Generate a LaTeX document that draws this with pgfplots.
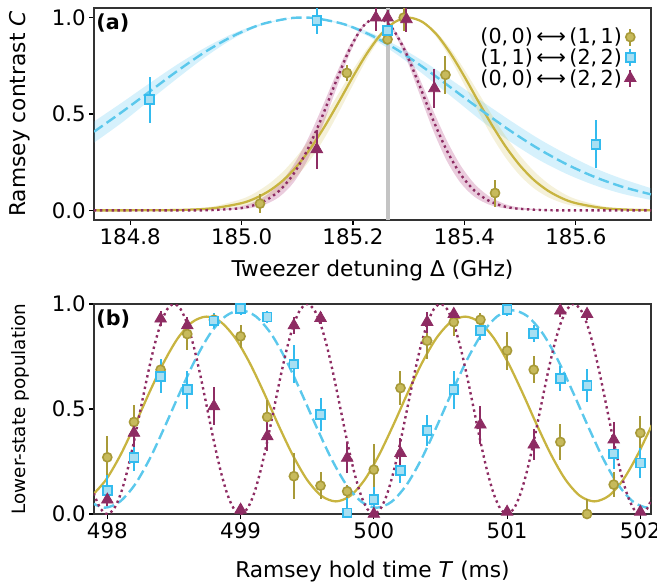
\documentclass[border=0pt]{standalone}
\usepackage{fontspec}
\setmainfont{DejaVu Sans}
\usepackage{pgfplots}
\usepackage{pgfplotstable}
\pgfplotsset{compat=1.18}
\usepgfplotslibrary{fillbetween}

\definecolor{oliveL}{HTML}{C8B440}
\definecolor{oliveE}{HTML}{A89A38}
\definecolor{oliveF}{HTML}{C7BA5C}
\definecolor{oliveB}{HTML}{CCBB44}
\definecolor{cyanL}{HTML}{5BC8EC}
\definecolor{cyanE}{HTML}{33BBEE}
\definecolor{cyanF}{HTML}{A8DFF2}
\definecolor{wine}{HTML}{8E2C63}
\definecolor{pinkB}{HTML}{AA3377}
\definecolor{grayL}{HTML}{C4C4C4}

% ---------- panel (a) fit curves: x, fit, lower band, upper band
\pgfplotstableread[row sep=\\]{
x y lo hi\\
184.735 .408 .351 .461\\
184.785 .510 .455 .559\\
184.835 .617 .571 .660\\
184.885 .724 .686 .758\\
184.935 .823 .796 .845\\
184.985 .905 .891 .918\\
185.035 .965 .959 .969\\
185.085 .996 .995 .997\\
185.110 1 1 1\\
185.135 .996 .995 .997\\
185.185 .965 .959 .969\\
185.235 .905 .891 .918\\
185.285 .823 .796 .845\\
185.335 .724 .686 .758\\
185.385 .617 .571 .660\\
185.435 .510 .455 .559\\
185.485 .408 .351 .461\\
185.535 .316 .260 .369\\
185.585 .237 .187 .289\\
185.635 .172 .129 .218\\
185.685 .121 .085 .162\\
185.735 .083 .054 .115\\
}\cyanfit

\pgfplotstableread[row sep=\\]{
x y lo hi\\
184.735 0 0 0\\
184.800 0 0 .0004\\
184.850 .0006 .0002 .0017\\
184.900 .0029 .0010 .0065\\
184.950 .0114 .0052 .0211\\
185.000 .0374 .0211 .0587\\
185.025 .0632 .0391 .0924\\
185.050 .102 .0686 .140\\
185.075 .157 .114 .203\\
185.100 .232 .180 .284\\
185.125 .327 .269 .381\\
185.150 .440 .381 .492\\
185.175 .565 .512 .611\\
185.200 .694 .651 .730\\
185.225 .814 .786 .838\\
185.250 .913 .898 .924\\
185.275 .977 .974 .980\\
185.300 1 1 1\\
185.325 .977 .974 .980\\
185.350 .913 .898 .924\\
185.375 .814 .786 .838\\
185.400 .694 .651 .730\\
185.425 .565 .512 .611\\
185.450 .440 .381 .492\\
185.475 .327 .269 .381\\
185.500 .232 .180 .284\\
185.525 .157 .114 .203\\
185.550 .102 .0686 .140\\
185.575 .0632 .0391 .0924\\
185.600 .0374 .0211 .0587\\
185.650 .0114 .0052 .0211\\
185.700 .0029 .0010 .0065\\
185.735 .0010 .0003 .0032\\
}\olivefit

\pgfplotstableread[row sep=\\]{
x y lo hi\\
184.735 0 0 0\\
184.893 .0001 0 .0004\\
184.943 .0012 .0004 .0030\\
184.993 .0096 .0045 .0177\\
185.018 .0232 .0125 .0381\\
185.043 .0511 .0313 .0756\\
185.068 .1025 .0706 .138\\
185.093 .188 .143 .234\\
185.118 .313 .259 .365\\
185.143 .475 .421 .524\\
185.168 .658 .615 .695\\
185.193 .830 .805 .851\\
185.218 .9546 .947 .960\\
185.243 1 1 1\\
185.268 .9546 .947 .960\\
185.293 .830 .805 .851\\
185.318 .658 .615 .695\\
185.343 .475 .421 .524\\
185.368 .313 .259 .365\\
185.393 .188 .143 .234\\
185.418 .1025 .0706 .138\\
185.443 .0511 .0313 .0756\\
185.468 .0232 .0125 .0381\\
185.493 .0096 .0045 .0177\\
185.543 .0012 .0004 .0030\\
185.593 .0001 0 .0004\\
185.735 0 0 0\\
}\winefit

% ---------- panel (a) data
\pgfplotstableread[row sep=\\]{
x y e\\
185.033 0.035 0.05\\
185.189 0.713 0.04\\
185.262 0.887 0.02\\
185.291 1.000 0.07\\
185.366 0.703 0.10\\
185.455 0.090 0.07\\
}\aol
\pgfplotstableread[row sep=\\]{
x y e\\
184.835 0.574 0.12\\
185.135 0.984 0.07\\
185.262 0.934 0.03\\
185.636 0.343 0.125\\
}\acy
\pgfplotstableread[row sep=\\]{
x y e\\
185.135 0.317 0.10\\
185.241 1.000 0.07\\
185.262 1.000 0.04\\
185.296 0.991 0.065\\
185.346 0.633 0.10\\
}\awi

% ---------- panel (b) data
\pgfplotstableread[row sep=\\]{
x y e\\
498.0 0.270 0.10\\
498.2 0.438 0.08\\
498.4 0.687 0.05\\
498.6 0.857 0.075\\
498.8 0.925 0.03\\
499.0 0.846 0.055\\
499.2 0.462 0.08\\
499.4 0.180 0.11\\
499.6 0.135 0.065\\
499.8 0.108 0.03\\
500.0 0.211 0.12\\
500.2 0.600 0.08\\
500.4 0.825 0.085\\
500.6 0.914 0.065\\
500.8 0.925 0.03\\
501.0 0.778 0.09\\
501.2 0.687 0.065\\
501.4 0.343 0.085\\
501.6 0.000 0.07\\
501.8 0.140 0.06\\
502.0 0.386 0.08\\
}\bol
\pgfplotstableread[row sep=\\]{
x y e\\
498.0 0.113 0.075\\
498.2 0.270 0.065\\
498.4 0.656 0.08\\
498.6 0.592 0.09\\
498.8 0.920 0.035\\
499.0 0.978 0.03\\
499.2 0.938 0.03\\
499.4 0.714 0.09\\
499.6 0.473 0.08\\
499.8 0.005 0.07\\
500.0 0.068 0.06\\
500.2 0.206 0.06\\
500.4 0.398 0.075\\
500.6 0.592 0.09\\
500.8 0.875 0.045\\
501.0 0.973 0.03\\
501.2 0.859 0.04\\
501.4 0.644 0.06\\
501.6 0.611 0.08\\
501.8 0.286 0.07\\
502.0 0.243 0.07\\
}\bcy
\pgfplotstableread[row sep=\\]{
x y e\\
498.0 0.068 0.03\\
498.2 0.386 0.065\\
498.4 0.930 0.035\\
498.6 0.898 0.04\\
498.8 0.513 0.09\\
499.0 0.020 0.03\\
499.2 0.370 0.07\\
499.4 0.898 0.04\\
499.6 0.933 0.03\\
499.8 0.267 0.07\\
500.0 0.000 0.03\\
500.2 0.290 0.07\\
500.4 0.914 0.05\\
500.6 0.952 0.03\\
500.8 0.425 0.09\\
501.0 0.010 0.03\\
501.2 0.330 0.075\\
501.4 0.968 0.03\\
501.6 0.952 0.03\\
501.8 0.354 0.085\\
502.0 0.010 0.03\\
}\bwi

\pgfplotsset{
  base/.style={
    scale only axis, width=417.75bp,
    tick pos=left, tick align=outside,
    major tick length=3.5bp,
    every tick/.style={black, line width=0.8bp},
    axis line style={draw=black!80, line width=0.9bp},
    ticklabel style={font=\fontsize{16bp}{18bp}\selectfont},
    xticklabel style={inner sep=2.5bp},
    yticklabel style={inner sep=2.5bp},
    ytick={0,0.5,1}, yticklabels={0.0,0.5,1.0},
  },
  olS/.style={only marks, mark=*, mark size=3.4bp,
    mark options={draw=oliveE, fill=oliveF, line width=1.2bp, solid},
    error bars/y dir=both, error bars/y explicit, error bars/error mark=none,
    error bars/error bar style={draw=oliveE, line width=1.5bp, solid}},
  cyS/.style={only marks, mark=square*, mark size=3.3bp,
    mark options={draw=cyanE, fill=cyanF, line width=1.3bp, solid},
    error bars/y dir=both, error bars/y explicit, error bars/error mark=none,
    error bars/error bar style={draw=cyanE, line width=1.5bp, solid}},
  wiS/.style={only marks, mark=triangle*, mark size=5bp,
    mark options={draw=wine, fill=wine, line width=0.6bp, solid},
    error bars/y dir=both, error bars/y explicit, error bars/error mark=none,
    error bars/error bar style={draw=wine, line width=1.5bp, solid}},
  olC/.style={color=oliveL, line width=1.7bp, smooth},
  cyC/.style={color=cyanL, line width=1.8bp, dash pattern=on 8bp off 3.5bp, smooth},
  wiC/.style={color=wine, line width=1.8bp, dash pattern=on 1.8bp off 2.6bp, smooth},
}

\begin{document}
\begin{tikzpicture}
% ================= panel (a)
\begin{axis}[base, at={(0,0)}, anchor=north west, height=159bp,
  xmin=184.735, xmax=185.735, ymin=-0.05, ymax=1.05,
  xtick={184.8,185.0,185.2,185.4,185.6},
  xticklabels={184.8,185.0,185.2,185.4,185.6},
  xlabel={Tweezer detuning Δ (GHz)},
  ylabel={Ramsey contrast \textit{C}},
  every axis x label/.style={at={([yshift=-42bp]axis description cs:0.5,0)}, anchor=base, font=\fontsize{16.3bp}{19bp}\selectfont},
  every axis y label/.style={at={([xshift=-51.5bp]axis description cs:0,0.5)}, rotate=90, anchor=base, font=\fontsize{16.3bp}{19bp}\selectfont},
  legend plot pos=right, legend cell align=right,
  legend style={at={(1,1)}, anchor=north east, xshift=-8bp, yshift=-11bp,
    draw=none, fill=none, font=\fontsize{15.5bp}{17bp}\selectfont, row sep=-1.8bp},
]
\addplot[draw=none, name path=cu, forget plot, smooth] table[x=x,y=hi]{\cyanfit};
\addplot[draw=none, name path=cl, forget plot, smooth] table[x=x,y=lo]{\cyanfit};
\addplot[fill=cyanE, fill opacity=0.2, draw=none, forget plot] fill between[of=cu and cl];
\addplot[draw=none, name path=ou, forget plot, smooth] table[x=x,y=hi]{\olivefit};
\addplot[draw=none, name path=ol, forget plot, smooth] table[x=x,y=lo]{\olivefit};
\addplot[fill=oliveB, fill opacity=0.2, draw=none, forget plot] fill between[of=ou and ol];
\addplot[draw=none, name path=wu, forget plot, smooth] table[x=x,y=hi]{\winefit};
\addplot[draw=none, name path=wl, forget plot, smooth] table[x=x,y=lo]{\winefit};
\addplot[fill=pinkB, fill opacity=0.25, draw=none, forget plot] fill between[of=wu and wl];

\addplot[forget plot, color=grayL, line width=3bp] coordinates {(185.262,-0.05) (185.262,1.05)};

\addplot[olC, forget plot] table[x=x,y=y]{\olivefit};
\addplot[cyC, forget plot] table[x=x,y=y]{\cyanfit};
\addplot[wiC, forget plot] table[x=x,y=y]{\winefit};

\addplot[olS, legend image code/.code={
   \draw[draw=oliveE, line width=1.5bp] (0.2cm,-6.4bp) -- (0.2cm,6.4bp);
   \draw[draw=none, mark=*, mark size=3.4bp, mark options={draw=oliveE, fill=oliveF, line width=1.2bp}] plot coordinates {(0.2cm,0cm)};}]
   table[x=x,y=y,y error=e]{\aol};
\addlegendentry{(0,\,0)\,⟷\,(1,\,1)}
\addplot[cyS, legend image code/.code={
   \draw[draw=cyanE, line width=1.5bp] (0.2cm,-6.4bp) -- (0.2cm,6.4bp);
   \draw[draw=none, mark=square*, mark size=3.3bp, mark options={draw=cyanE, fill=cyanF, line width=1.3bp}] plot coordinates {(0.2cm,0cm)};}]
   table[x=x,y=y,y error=e]{\acy};
\addlegendentry{(1,\,1)\,⟷\,(2,\,2)}
\addplot[wiS, legend image code/.code={
   \draw[draw=wine, line width=1.5bp] (0.2cm,-6.4bp) -- (0.2cm,6.4bp);
   \draw[draw=none, mark=triangle*, mark size=5bp, mark options={draw=wine, fill=wine, line width=0.6bp}] plot coordinates {(0.2cm,0cm)};}]
   table[x=x,y=y,y error=e]{\awi};
\addlegendentry{(0,\,0)\,⟷\,(2,\,2)}

\node[anchor=north west, inner sep=0pt, font=\bfseries\fontsize{15.5bp}{17bp}\selectfont] at (rel axis cs:0.004,0.975) {(a)};
\end{axis}

% ================= panel (b)
\begin{axis}[base, at={(0,-222bp)}, anchor=north west, height=157.5bp,
  xmin=497.9, xmax=502.08, ymin=0, ymax=1,
  xtick={498,499,500,501,502},
  xticklabels={498,499,500,501,502},
  xlabel={Ramsey hold time \textit{T} (ms)},
  ylabel={Lower-state population},
  every axis x label/.style={at={([yshift=-47.5bp]axis description cs:0.5,0)}, anchor=base, font=\fontsize{16.3bp}{19bp}\selectfont},
  every axis y label/.style={at={([xshift=-51.5bp]axis description cs:0,0.5)}, rotate=90, anchor=base, font=\fontsize{13.8bp}{16bp}\selectfont},
]
\addplot[olC] coordinates {
(497.883,0.0864) (497.990,0.163) (498.098,0.28) (498.206,0.4234) (498.314,0.5766)
(498.422,0.72) (498.529,0.837) (498.637,0.9136) (498.745,0.94) (498.853,0.9136)
(498.961,0.837) (499.068,0.72) (499.176,0.5766) (499.284,0.4234) (499.392,0.28)
(499.499,0.163) (499.607,0.0864) (499.715,0.06) (499.823,0.0864) (499.931,0.163)
(500.038,0.28) (500.146,0.4234) (500.254,0.5766) (500.362,0.72) (500.469,0.837)
(500.577,0.9136) (500.685,0.94) (500.793,0.9136) (500.901,0.837) (501.008,0.72)
(501.116,0.5766) (501.224,0.4234) (501.332,0.28) (501.439,0.163) (501.547,0.0864)
(501.655,0.06) (501.763,0.0864) (501.871,0.163) (501.978,0.28) (502.086,0.4234)};
\addplot[cyC] coordinates {
(497.867,0.0583) (497.980,0.03) (498.093,0.0583) (498.207,0.140) (498.320,0.265)
(498.433,0.4184) (498.547,0.5816) (498.660,0.735) (498.773,0.860) (498.887,0.9417)
(499.000,0.97) (499.113,0.9417) (499.227,0.860) (499.340,0.735) (499.453,0.5816)
(499.567,0.4184) (499.680,0.265) (499.793,0.140) (499.907,0.0583) (500.020,0.03)
(500.133,0.0583) (500.247,0.140) (500.360,0.265) (500.473,0.4184) (500.587,0.5816)
(500.700,0.735) (500.813,0.860) (500.927,0.9417) (501.040,0.97) (501.153,0.9417)
(501.267,0.860) (501.380,0.735) (501.493,0.5816) (501.607,0.4184) (501.720,0.265)
(501.833,0.140) (501.947,0.0583) (502.060,0.03) (502.173,0.0583)};
\addplot[wiC] coordinates {
(497.85,.2061) (497.90,.0955) (497.95,.0245)
(498.00,0) (498.05,.0245) (498.10,.0955) (498.15,.2061) (498.20,.3455) (498.25,.5) (498.30,.6545) (498.35,.7939) (498.40,.9045) (498.45,.9755)
(498.50,1) (498.55,.9755) (498.60,.9045) (498.65,.7939) (498.70,.6545) (498.75,.5) (498.80,.3455) (498.85,.2061) (498.90,.0955) (498.95,.0245)
(499.00,0) (499.05,.0245) (499.10,.0955) (499.15,.2061) (499.20,.3455) (499.25,.5) (499.30,.6545) (499.35,.7939) (499.40,.9045) (499.45,.9755)
(499.50,1) (499.55,.9755) (499.60,.9045) (499.65,.7939) (499.70,.6545) (499.75,.5) (499.80,.3455) (499.85,.2061) (499.90,.0955) (499.95,.0245)
(500.00,0) (500.05,.0245) (500.10,.0955) (500.15,.2061) (500.20,.3455) (500.25,.5) (500.30,.6545) (500.35,.7939) (500.40,.9045) (500.45,.9755)
(500.50,1) (500.55,.9755) (500.60,.9045) (500.65,.7939) (500.70,.6545) (500.75,.5) (500.80,.3455) (500.85,.2061) (500.90,.0955) (500.95,.0245)
(501.00,0) (501.05,.0245) (501.10,.0955) (501.15,.2061) (501.20,.3455) (501.25,.5) (501.30,.6545) (501.35,.7939) (501.40,.9045) (501.45,.9755)
(501.50,1) (501.55,.9755) (501.60,.9045) (501.65,.7939) (501.70,.6545) (501.75,.5) (501.80,.3455) (501.85,.2061) (501.90,.0955) (501.95,.0245)
(502.00,0) (502.05,.0245) (502.10,.0955)};
\addplot[olS] table[x=x,y=y,y error=e]{\bol};
\addplot[cyS] table[x=x,y=y,y error=e]{\bcy};
\addplot[wiS] table[x=x,y=y,y error=e]{\bwi};
\node[anchor=north west, inner sep=0pt, font=\bfseries\fontsize{15.5bp}{17bp}\selectfont] at (rel axis cs:0.004,0.975) {(b)};
\end{axis}
\pgfresetboundingbox
\path (-70.5bp,6bp) rectangle (422.25bp,-430.5bp);
\end{tikzpicture}
\end{document}
